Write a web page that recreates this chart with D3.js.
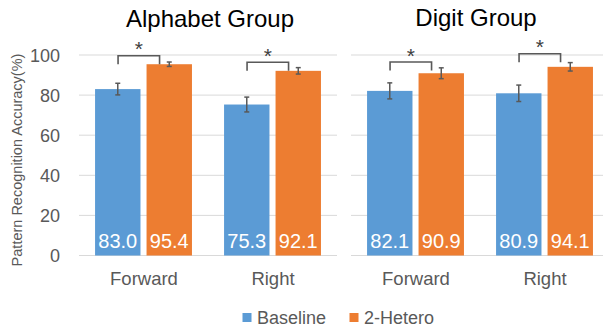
<!DOCTYPE html>
<html>
<head>
<meta charset="utf-8">
<script src="https://cdn.jsdelivr.net/npm/d3@7"></script>
<style>
  html, body { margin: 0; padding: 0; background: #fff; }
  svg { display: block; font-family: "Liberation Sans", Arial, sans-serif; }
</style>
</head>
<body>
<svg id="chart" width="603" height="330"></svg>
<script>
// Pattern recognition accuracy per group, direction and condition
const groups = ["Alphabet Group", "Digit Group"];
const directions = ["Forward", "Right"];
const series = ["Baseline", "2-Hetero"];
const baselineValues = [[83.0, 75.3], [82.1, 80.9]];
const heteroValues = [[95.4, 92.1], [90.9, 94.1]];
const baselineErrors = [[2.9, 3.7], [4.0, 4.1]];
const heteroErrors = [[1.1, 1.6], [2.7, 2.1]];
// level (in %) of the top of each significance bracket
const bracketLevels = [[99.6, 96.4], [96.5, 100.6]];
const yTicks = [0, 20, 40, 60, 80, 100];
const yTitle = "Pattern Recognition Accuracy(%)";

const colors = { "Baseline": "#5B9BD5", "2-Hetero": "#ED7D31" };
const textGray = "#595959";

const svg = d3.select("#chart");
const y = d3.scaleLinear().domain([0, 100]).range([255.5, 55]);

// Two panels sharing the same y scale
const panels = [
  { range: [79, 337], titleX: 210, titleY: 26.5, showTicks: true },
  { range: [351, 609], titleX: 476, titleY: 25.5, showTicks: false }
];

const sx = d3.scaleBand().domain(series).range([0, 96.9]).paddingInner(0.118);

groups.forEach((g, gi) => {
  const p = panels[gi];
  const x0 = d3.scaleBand().domain(directions).range(p.range)
    .paddingInner(0.249).paddingOuter(0.1245);

  const layer = svg.append("g");

  // horizontal gridlines
  layer.append("g").selectAll("line").data(yTicks).join("line")
    .attr("x1", p.range[0]).attr("x2", Math.min(p.range[1], 603))
    .attr("y1", d => y(d)).attr("y2", d => y(d))
    .attr("stroke", "#D9D9D9").attr("stroke-width", 1);

  if (p.showTicks) {
    const axis = d3.axisLeft(y).tickValues(yTicks).tickSize(0).tickPadding(0);
    const ag = svg.append("g").attr("transform", "translate(60,0)").call(axis);
    ag.select(".domain").remove();
    ag.selectAll("text").attr("font-size", 18).attr("fill", textGray)
      .attr("font-family", "Liberation Sans, Arial, sans-serif")
      .attr("dy", "0.36em");
  }

  const rows = directions.map((dir, di) => ({
    dir,
    level: bracketLevels[gi][di],
    bars: [
      { s: "Baseline", v: baselineValues[gi][di], e: baselineErrors[gi][di] },
      { s: "2-Hetero", v: heteroValues[gi][di], e: heteroErrors[gi][di] }
    ]
  }));

  const cat = layer.selectAll("g.cat").data(rows).join("g")
    .attr("class", "cat")
    .attr("transform", d => `translate(${x0(d.dir)},0)`);

  const bar = cat.selectAll("g.bar").data(d => d.bars).join("g").attr("class", "bar");

  bar.append("rect")
    .attr("x", d => sx(d.s))
    .attr("width", sx.bandwidth())
    .attr("y", d => y(d.v))
    .attr("height", d => y(0) - y(d.v))
    .attr("fill", d => colors[d.s]);

  // value labels inside the bars
  bar.append("text")
    .attr("x", d => sx(d.s) + sx.bandwidth() / 2)
    .attr("y", 247.5)
    .attr("text-anchor", "middle")
    .attr("font-size", 20)
    .attr("fill", "#fff")
    .text(d => d.v.toFixed(1));

  // error bars
  const eb = bar.append("g").attr("stroke", "#595959").attr("stroke-width", 1.5);
  eb.append("line")
    .attr("x1", d => sx(d.s) + sx.bandwidth() / 2)
    .attr("x2", d => sx(d.s) + sx.bandwidth() / 2)
    .attr("y1", d => y(d.v + d.e)).attr("y2", d => y(d.v - d.e));
  [1, -1].forEach(sign => {
    eb.append("line")
      .attr("x1", d => sx(d.s) + sx.bandwidth() / 2 - 2.5)
      .attr("x2", d => sx(d.s) + sx.bandwidth() / 2 + 2.5)
      .attr("y1", d => y(d.v + sign * d.e)).attr("y2", d => y(d.v + sign * d.e));
  });

  // significance brackets
  cat.each(function (d) {
    const c = d3.select(this);
    const yt = y(d.level);
    const yb = yt + 8.5;
    const xl = sx("Baseline") + 23;
    const xr = sx("Baseline") + 64.5;
    c.append("path")
      .attr("d", `M${xl},${yb}V${yt}H${xr}V${yb}`)
      .attr("fill", "none").attr("stroke", "#595959").attr("stroke-width", 1.6);
    c.append("text")
      .attr("x", (xl + xr) / 2).attr("y", yt + 0.5)
      .attr("text-anchor", "middle").attr("font-size", 21).attr("fill", "#404040")
      .text("*");
  });

  // category labels
  layer.selectAll("text.xl").data(directions).join("text")
    .attr("class", "xl")
    .attr("x", d => x0(d) + x0.bandwidth() / 2 + 0.5)
    .attr("y", 284.5)
    .attr("text-anchor", "middle")
    .attr("font-size", 18.5)
    .attr("fill", textGray)
    .text(d => d);

  // panel title
  layer.append("text")
    .attr("x", p.titleX).attr("y", p.titleY)
    .attr("text-anchor", "middle")
    .attr("font-size", 24)
    .attr("fill", "#000")
    .text(g);
});

// y-axis title
svg.append("text")
  .attr("transform", "translate(22,160) rotate(-90)")
  .attr("text-anchor", "middle")
  .attr("font-size", 14.5)
  .attr("fill", textGray)
  .text(yTitle);

// legend
const legend = svg.append("g");
const legendX = [242.5, 349.5];
series.forEach((s, i) => {
  legend.append("rect")
    .attr("x", legendX[i]).attr("y", 313)
    .attr("width", 9).attr("height", 9)
    .attr("fill", colors[s]);
  legend.append("text")
    .attr("x", legendX[i] + 14.5).attr("y", 323.5)
    .attr("font-size", 18)
    .attr("fill", textGray)
    .text(s);
});
</script>
</body>
</html>
